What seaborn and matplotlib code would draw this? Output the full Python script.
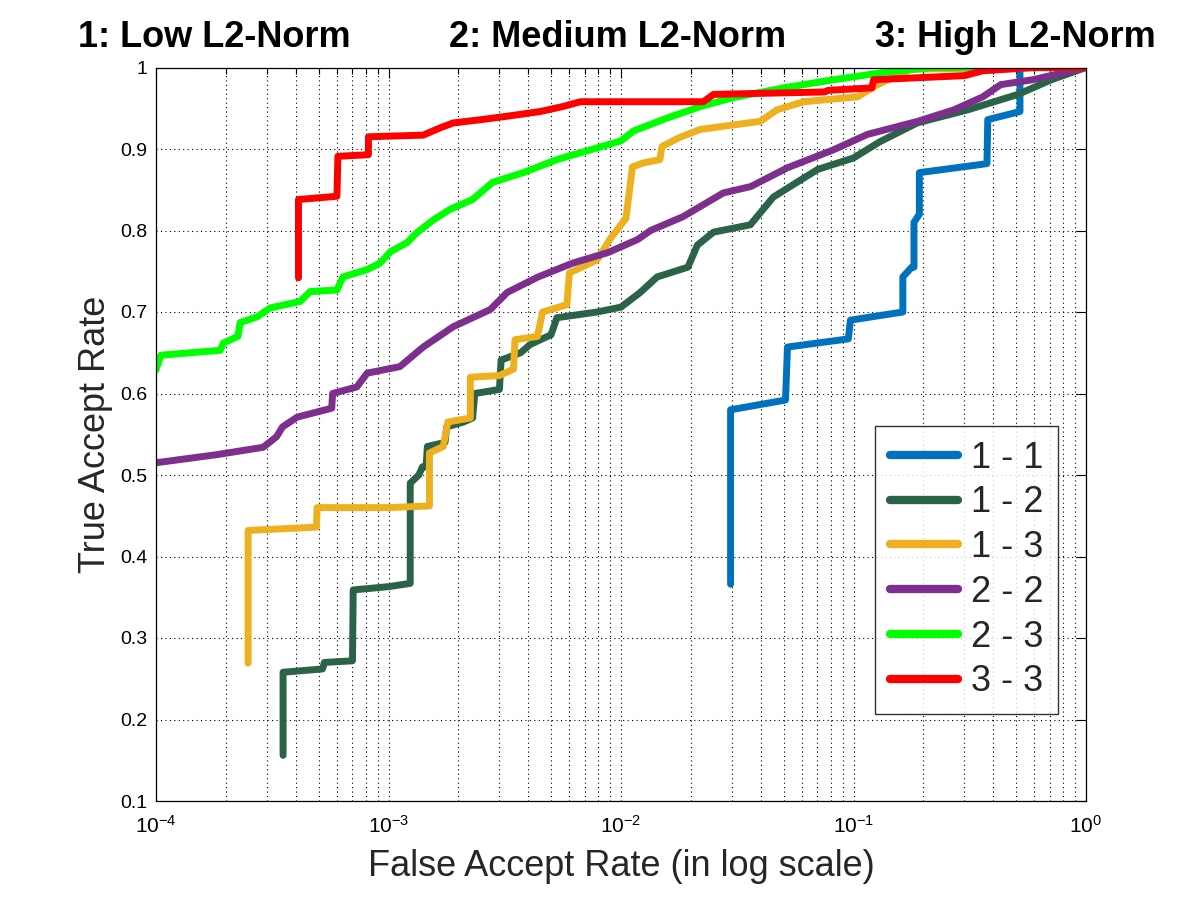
import numpy as np
import pandas as pd
import matplotlib
matplotlib.use('Agg')
import matplotlib.pyplot as plt
import seaborn as sbn

# ROC points (FAR, TAR)
far_11 = [0.0296, 0.0296, 0.051, 0.052, 0.095, 0.097, 0.163, 0.163, 0.178, 0.182, 0.182, 0.192, 0.192,
          0.375, 0.378, 0.52, 0.52, 1.0]
tar_11 = [0.366, 0.58, 0.592, 0.657, 0.667, 0.69, 0.70, 0.743, 0.755, 0.755, 0.81, 0.82, 0.871,
          0.882, 0.936, 0.946, 1.0, 1.0]

far_12 = [3.52e-4, 3.52e-4, 5.2e-4, 5.3e-4, 7.0e-4, 7.05e-4, 1.0e-3, 1.24e-3, 1.24e-3, 1.35e-3, 1.4e-3,
          1.45e-3, 1.47e-3, 1.75e-3, 1.78e-3, 2.1e-3, 2.3e-3, 2.35e-3, 3.0e-3, 3.05e-3, 3.7e-3, 4.06e-3,
          5.0e-3, 5.3e-3, 7.9e-3, 0.0100, 0.0121, 0.0143, 0.0194, 0.0213, 0.025, 0.036, 0.0452, 0.057,
          0.0702, 0.1, 0.13, 0.188, 0.31, 0.51, 0.71, 1.0]
tar_12 = [0.156, 0.258, 0.262, 0.27, 0.272, 0.359, 0.363, 0.367, 0.49, 0.5, 0.51,
          0.51, 0.535, 0.54, 0.559, 0.565, 0.57, 0.60, 0.605, 0.641, 0.65, 0.66,
          0.672, 0.693, 0.70, 0.706, 0.724, 0.743, 0.755, 0.782, 0.798, 0.807, 0.841, 0.859,
          0.875, 0.889, 0.909, 0.932, 0.948, 0.967, 0.985, 1.0]

far_13 = [2.49e-4, 2.49e-4, 4.9e-4, 4.93e-4, 1.0e-3, 1.5e-3, 1.5e-3, 1.72e-3, 1.8e-3, 2.25e-3, 2.25e-3,
          3.0e-3, 3.45e-3, 3.5e-3, 4.37e-3, 4.6e-3, 5.85e-3, 6.0e-3, 7.9e-3, 9.0e-3, 0.0105, 0.0112,
          0.0125, 0.0147, 0.015, 0.0178, 0.0219, 0.0398, 0.0468, 0.0611, 0.104, 0.127, 0.177, 1.0]
tar_13 = [0.269, 0.432, 0.436, 0.46, 0.46, 0.462, 0.527, 0.535, 0.565, 0.57, 0.62,
          0.622, 0.63, 0.666, 0.67, 0.70, 0.709, 0.748, 0.764, 0.79, 0.815, 0.878,
          0.883, 0.887, 0.903, 0.914, 0.924, 0.934, 0.948, 0.958, 0.964, 0.979, 0.998, 1.0]

far_22 = [1e-4, 1.83e-4, 2.89e-4, 3.3e-4, 3.5e-4, 4.05e-4, 5.7e-4, 5.75e-4, 7.3e-4, 8.1e-4, 1.12e-3,
          1.41e-3, 1.9e-3, 2.74e-3, 3.24e-3, 4.4e-3, 6.2e-3, 8.8e-3, 0.0118, 0.0134, 0.0185, 0.0275,
          0.0362, 0.052, 0.082, 0.115, 0.189, 0.27, 0.36, 0.43, 0.59, 1.0]
tar_22 = [0.515, 0.525, 0.534, 0.547, 0.559, 0.571, 0.582, 0.60, 0.608, 0.625, 0.633,
          0.657, 0.682, 0.703, 0.724, 0.743, 0.76, 0.773, 0.789, 0.80, 0.817, 0.846,
          0.854, 0.877, 0.899, 0.918, 0.934, 0.948, 0.964, 0.979, 0.985, 1.0]

far_23 = [1e-4, 1.05e-4, 1.89e-4, 1.95e-4, 2.25e-4, 2.3e-4, 2.72e-4, 3.1e-4, 4.17e-4, 4.6e-4, 6.0e-4,
          6.37e-4, 8.1e-4, 9.2e-4, 1.02e-3, 1.2e-3, 1.32e-3, 1.56e-3, 1.84e-3, 2.3e-3, 2.8e-3, 3.8e-3,
          5.3e-3, 7.4e-3, 1.0e-2, 0.0113, 0.0158, 0.0219, 0.0304, 0.05, 0.082, 0.135, 0.22, 1.0]
tar_23 = [0.629, 0.647, 0.653, 0.662, 0.67, 0.687, 0.694, 0.705, 0.713, 0.725, 0.727,
          0.743, 0.752, 0.76, 0.774, 0.785, 0.797, 0.813, 0.826, 0.838, 0.859, 0.871,
          0.887, 0.899, 0.91, 0.922, 0.938, 0.952, 0.963, 0.975, 0.985, 0.994, 1.0, 1.0]

far_33 = [4.1e-4, 4.1e-4, 6.0e-4, 6.06e-4, 8.2e-4, 8.2e-4, 1.41e-3, 1.67e-3, 1.9e-3, 2.5e-3, 3.2e-3,
          4.5e-3, 5.6e-3, 6.7e-3, 0.0226, 0.025, 0.075, 0.078, 0.12, 0.122, 0.3, 0.36, 0.6, 1.0]
tar_33 = [0.742, 0.838, 0.842, 0.891, 0.893, 0.915, 0.917, 0.926, 0.932, 0.936, 0.94,
          0.946, 0.952, 0.958, 0.958, 0.967, 0.97, 0.972, 0.975, 0.985, 0.99, 0.996, 1.0, 1.0]

pairs = ['1 - 1', '1 - 2', '1 - 3', '2 - 2', '2 - 3', '3 - 3']
colors = ['#0072BD', '#2A6347', '#EDB120', '#7E2F8E', '#00FF00', '#FF0000']
curves = [(far_11, tar_11), (far_12, tar_12), (far_13, tar_13),
          (far_22, tar_22), (far_23, tar_23), (far_33, tar_33)]

frames = []
for p, (f, t) in zip(pairs, curves):
    frames.append(pd.DataFrame({'FAR': f, 'TAR': t, 'pair': p}))
df = pd.concat(frames, ignore_index=True)

sbn.set_style('white')
plt.rcParams['font.family'] = ['Liberation Sans', 'DejaVu Sans']
plt.rcParams['mathtext.fontset'] = 'custom'
plt.rcParams['mathtext.rm'] = 'Liberation Sans'

fig = plt.figure(figsize=(12, 9), dpi=100)
ax = fig.add_axes([0.13, 0.11, 0.775, 0.815])

sbn.lineplot(data=df, x='FAR', y='TAR', hue='pair', hue_order=pairs, palette=colors,
             sort=False, estimator=None, units='pair', lw=5, ax=ax)

ax.set_xscale('log')
ax.set_xlim(1e-4, 1)
ax.set_ylim(0.1, 1)
ax.set_yticks(np.arange(0.1, 1.01, 0.1))
ax.set_yticklabels(['0.1', '0.2', '0.3', '0.4', '0.5', '0.6', '0.7', '0.8', '0.9', '1'])
ax.tick_params(which='both', direction='in', top=True, right=True, labelsize=14,
               color='k', labelcolor='k')
ax.tick_params(axis='x', which='major', labelsize=15, pad=10)
ax.tick_params(axis='y', which='major', pad=6)
ax.tick_params(which='major', length=7, width=0.8)
ax.tick_params(which='minor', length=4, width=0.8)
ax.grid(True, which='both', axis='x', ls=(0, (1, 3)), color='k', lw=0.8)
ax.grid(True, which='major', axis='y', ls=(0, (1, 3)), color='k', lw=0.8)
for s in ax.spines.values():
    s.set_color('k')
    s.set_linewidth(0.9)

ax.set_xlabel('False Accept Rate (in log scale)', fontsize=26, color='#262626', labelpad=9)
ax.set_ylabel('True Accept Rate', fontsize=26, color='#262626', labelpad=5)

leg = ax.legend(loc='lower right', bbox_to_anchor=(0.970, 0.119), fontsize=26,
                frameon=True, fancybox=False, edgecolor='k', handlelength=1.9,
                labelspacing=0.27, borderpad=0.4, handletextpad=0.35, borderaxespad=0)
leg.get_frame().set_linewidth(1.0)
for line in leg.get_lines():
    line.set_linewidth(6)

fig.text(0.179, 0.958, '1: Low L2-Norm', ha='center', va='center', fontsize=26,
         fontweight='bold', color='k')
fig.text(0.515, 0.958, '2: Medium L2-Norm', ha='center', va='center', fontsize=26,
         fontweight='bold', color='k')
fig.text(0.846, 0.958, '3: High L2-Norm', ha='center', va='center', fontsize=26,
         fontweight='bold', color='k')

fig.savefig('out.png', dpi=100)
